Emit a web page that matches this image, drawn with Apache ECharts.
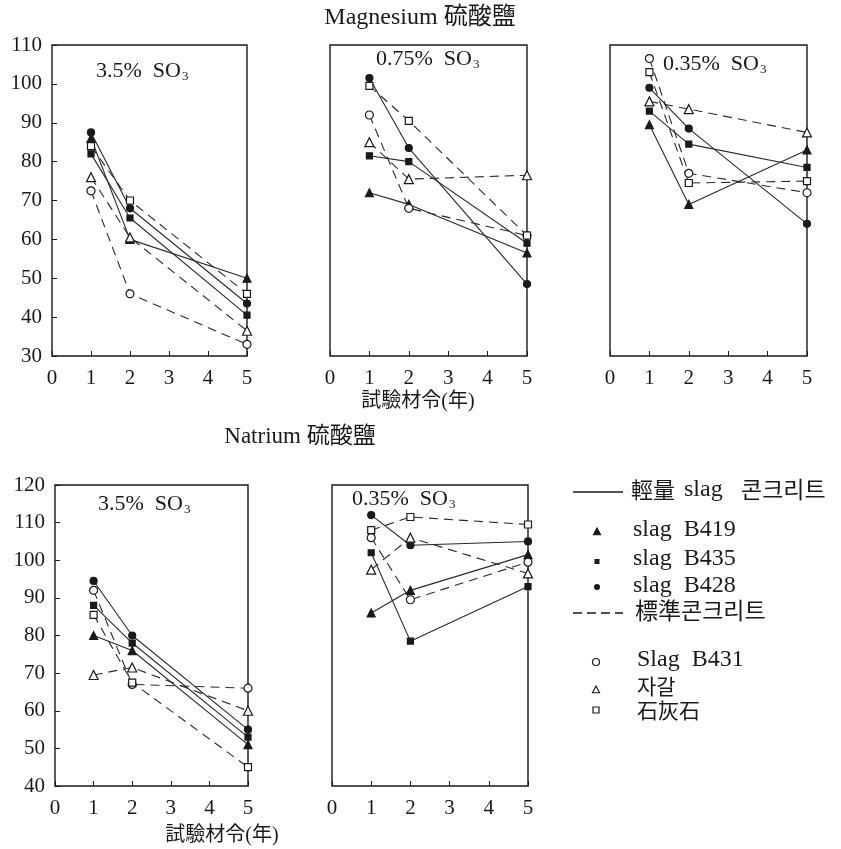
<!DOCTYPE html>
<html>
<head>
<meta charset="utf-8">
<script src="https://cdn.jsdelivr.net/npm/echarts@6/dist/echarts.min.js"></script>
<style>
  html, body { margin: 0; padding: 0; background: #fff; }
  #chart { width: 841px; height: 849px; }
</style>
</head>
<body>
<div id="chart"></div>
<script>
// Test ages (years) at which every specimen was measured
const years = [1, 2, 5];
const xTickLabels = ['0', '1', '2', '3', '4', '5'];

// Panels, in order: Mg 3.5%, Mg 0.75%, Mg 0.35%, Na 3.5%, Na 0.35% SO3
const panelSO3 = ['3.5%', '0.75%', '0.35%', '3.5%', '0.35%'];

// Relative strength (%) per panel, values at 1, 2 and 5 years
// lightweight slag concrete (solid lines)
const slagB419 = [[86, 60, 50], [72, 69, 56.5], [89.5, 69, 83], [80, 76, 51], [86, 92, 101.5]];
const slagB435 = [[82, 65.5, 40.5], [81.5, 80, 59], [93, 84.5, 78.5], [88, 78, 53], [102, 78.5, 93]];
const slagB428 = [[87.5, 68, 43.5], [101.5, 83.5, 48.5], [99, 88.5, 64], [94.5, 80, 55], [112, 104, 105]];
// standard concrete (dashed lines)
const slagB431 = [[72.5, 46, 33], [92, 68, 61], [106.5, 77, 72], [92, 67, 66], [106, 89.5, 99.5]];
const gravel   = [[76, 60.5, 36.5], [85, 75.5, 76.5], [95.5, 93.5, 87.5], [69.5, 71.5, 60], [97.5, 106, 96.5]];
const limestone = [[84, 70, 46], [99.5, 90.5, 61], [103, 74.5, 75], [85.5, 67.5, 45], [108, 111.5, 109.5]];

const INK = '#1a1a1a';
const SERIF = "'Liberation Serif', 'DejaVu Serif', 'Noto Sans CJK KR', serif";

const seriesDefs = [
  { name: 'slag B419', data: slagB419, symbol: 'triangle', size: 8, filled: true,  dashed: false },
  { name: 'slag B435', data: slagB435, symbol: 'rect',     size: 6, filled: true,  dashed: false },
  { name: 'slag B428', data: slagB428, symbol: 'circle',   size: 7, filled: true,  dashed: false },
  { name: 'Slag B431', data: slagB431, symbol: 'circle',   size: 8, filled: false, dashed: true },
  { name: '자갈',      data: gravel,   symbol: 'triangle', size: 9, filled: false, dashed: true },
  { name: '石灰石',    data: limestone, symbol: 'rect',    size: 7, filled: false, dashed: true }
];

// plot frames of the five panels
const panelLayout = [
  { left: 52,  top: 45,  width: 195, height: 311, min: 30, max: 110, yLabels: true },
  { left: 330, top: 45,  width: 197, height: 311, min: 30, max: 110, yLabels: false },
  { left: 610, top: 45,  width: 197, height: 311, min: 30, max: 110, yLabels: false },
  { left: 55,  top: 485, width: 193, height: 301, min: 40, max: 120, yLabels: true },
  { left: 332, top: 485, width: 196, height: 301, min: 40, max: 120, yLabels: false }
];

const grids = [], xAxes = [], yAxes = [], series = [];

panelLayout.forEach((p, i) => {
  grids.push({
    left: p.left, top: p.top, width: p.width, height: p.height,
    show: true, borderColor: INK, borderWidth: 1.4, backgroundColor: 'transparent'
  });
  xAxes.push({
    type: 'value', gridIndex: i, min: 0, max: 5, interval: 1,
    axisLine: { show: false },
    axisTick: { show: true, inside: true, length: 5, lineStyle: { color: INK } },
    splitLine: { show: false },
    axisLabel: {
      margin: 12, color: INK, fontFamily: SERIF, fontSize: 21,
      formatter: v => xTickLabels[v]
    }
  });
  yAxes.push({
    type: 'value', gridIndex: i, min: p.min, max: p.max, interval: 10,
    axisLine: { show: false },
    axisTick: { show: p.yLabels, inside: true, length: 5, lineStyle: { color: INK } },
    splitLine: { show: false },
    axisLabel: { show: p.yLabels, margin: 10, color: INK, fontFamily: SERIF, fontSize: 21 }
  });
  seriesDefs.forEach(d => {
    series.push({
      type: 'line', name: d.name, xAxisIndex: i, yAxisIndex: i,
      data: years.map((yr, k) => [yr, d.data[i][k]]),
      symbol: d.symbol, symbolSize: d.size, showSymbol: true,
      itemStyle: { color: d.filled ? INK : '#fff', borderColor: INK, borderWidth: 1.2 },
      lineStyle: { color: '#2a2a2a', width: 1.1, type: d.dashed ? [9, 6] : 'solid' },
      z: d.filled ? 3 : 4,
      animation: false
    });
  });
});

// "x% SO3" note inside each panel
const notePos = [[96, 72], [376, 60], [663, 65], [98, 505], [352, 500]];
const so3Notes = panelSO3.map((s, i) => ({
  type: 'text', left: notePos[i][0], top: notePos[i][1] - 12,
  style: {
    text: '{a|' + s + '  SO}{b|3}',
    rich: {
      a: { fontFamily: SERIF, fontSize: 22, fill: INK, lineHeight: 24 },
      b: { fontFamily: SERIF, fontSize: 13, fill: INK, lineHeight: 24, padding: [10, 0, 0, 1] }
    }
  }
}));

function label(text, x, y, size, align) {
  return {
    type: 'text', x: x, y: y,
    style: {
      text: text, fontFamily: SERIF, fontSize: size, fill: INK,
      align: align || 'center', verticalAlign: 'middle'
    }
  };
}

// legend drawn by hand: line styles first, then the marker shapes below each
function tri(cx, cy, r, filled) {
  return {
    type: 'polygon',
    shape: { points: [[cx, cy - r], [cx + r * 0.9, cy + r * 0.7], [cx - r * 0.9, cy + r * 0.7]] },
    style: { fill: filled ? INK : '#fff', stroke: INK, lineWidth: 1.1 }
  };
}
const legend = [
  { type: 'line', shape: { x1: 573, y1: 492, x2: 623, y2: 492 }, style: { stroke: INK, lineWidth: 1.3 } },
  label('輕量', 631, 492, 22, 'left'),
  label('slag', 684, 490, 24, 'left'),
  label('콘크리트', 741, 492, 23, 'left'),
  tri(597, 532, 4, true),
  label('slag  B419', 633, 530, 24, 'left'),
  { type: 'rect', shape: { x: 594.5, y: 559, width: 5, height: 5 }, style: { fill: INK } },
  label('slag  B435', 633, 559, 24, 'left'),
  { type: 'circle', shape: { cx: 597, cy: 587, r: 3 }, style: { fill: INK } },
  label('slag  B428', 633, 586, 24, 'left'),
  { type: 'line', shape: { x1: 573, y1: 613, x2: 623, y2: 613 }, style: { stroke: INK, lineWidth: 1.3, lineDash: [9, 5] } },
  label('標準콘크리트', 635, 613, 23, 'left'),
  { type: 'circle', shape: { cx: 596, cy: 662, r: 3.5 }, style: { fill: '#fff', stroke: INK, lineWidth: 1.2 } },
  label('Slag  B431', 637, 660, 24, 'left'),
  tri(596, 690, 4, false),
  label('자갈', 637, 688, 21, 'left'),
  { type: 'rect', shape: { x: 593, y: 707, width: 6, height: 6 }, style: { fill: '#fff', stroke: INK, lineWidth: 1.2 } },
  label('石灰石', 637, 712, 21, 'left')
];

const titles = [
  label('Magnesium 硫酸鹽', 420, 18, 24),
  label('試驗材令(年)', 418, 402, 20),
  label('Natrium 硫酸鹽', 300, 437, 23),
  label('試驗材令(年)', 222, 836, 20)
];

const chart = echarts.init(document.getElementById('chart'), null, { renderer: 'canvas' });
chart.setOption({
  backgroundColor: '#fff',
  animation: false,
  grid: grids,
  xAxis: xAxes,
  yAxis: yAxes,
  series: series,
  graphic: titles.concat(so3Notes, legend)
});
</script>
</body>
</html>
